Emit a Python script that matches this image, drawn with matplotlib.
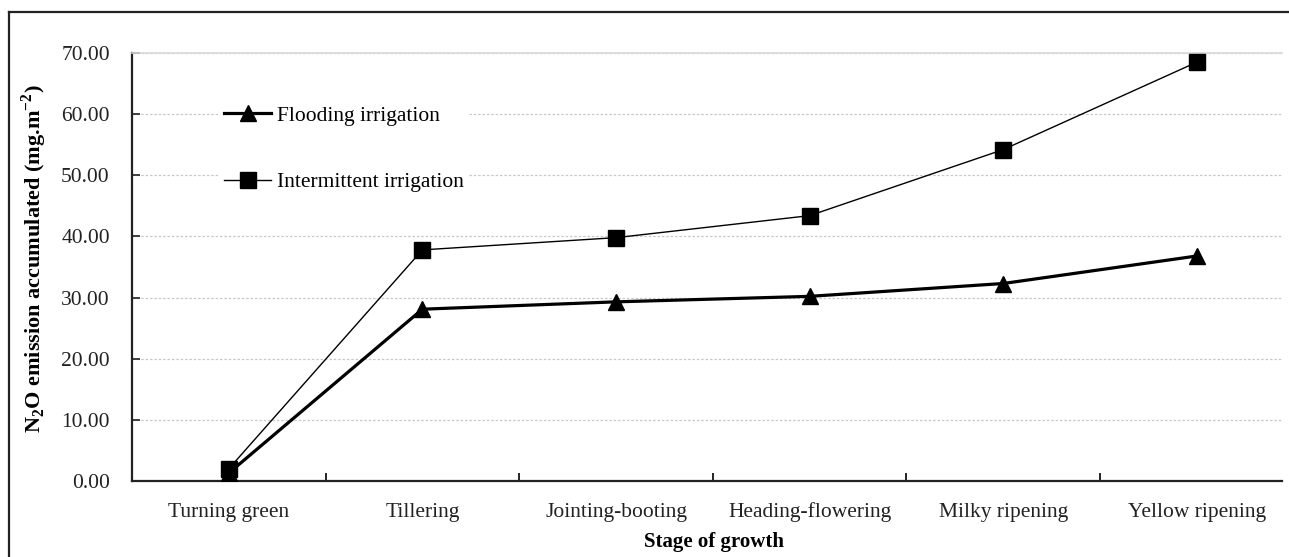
import numpy as np
import matplotlib
matplotlib.use('Agg')
import matplotlib.pyplot as plt
from matplotlib.lines import Line2D
from matplotlib.ticker import FormatStrFormatter

plt.rcParams['font.family'] = ['Liberation Serif', 'DejaVu Serif']
plt.rcParams['mathtext.fontset'] = 'custom'
plt.rcParams['mathtext.rm'] = 'Liberation Serif:bold'
plt.rcParams['mathtext.bf'] = 'Liberation Serif:bold'

## data
stages = ['Turning green', 'Tillering', 'Jointing-booting',
          'Heading-flowering', 'Milky ripening', 'Yellow ripening']
flooding = [1.3, 28.1, 29.3, 30.2, 32.3, 36.8]
intermittent = [2.0, 37.8, 39.8, 43.4, 54.2, 68.5]
yticks = [0, 10, 20, 30, 40, 50, 60, 70]

fig = plt.figure(figsize=(12.89, 5.57), dpi=100)
ax = fig.add_axes([132/1289, 1 - 481/557, 1150/1289, 428/557])

x = np.arange(len(stages))
ax.plot(x, flooding, color='black', lw=2.3, marker='^', ms=12,
        label='Flooding irrigation', zorder=3)
ax.plot(x, intermittent, color='black', lw=1.0, marker='s', ms=11,
        label='Intermittent irrigation', zorder=4)

ax.set_xlim(-0.5, 5.44)
ax.set_ylim(0, 70)

## y axis
ax.set_yticks(yticks)
ax.yaxis.set_major_formatter(FormatStrFormatter('%.2f'))
ax.tick_params(axis='y', direction='in', length=6, width=1.2, pad=16,
               labelsize=15.5, colors='#222222')
ax.yaxis.grid(True, linestyle=(0, (2, 1.5)), color='#c8c8c8', lw=0.9)
ax.set_axisbelow(True)

## x axis: labels in the middle, ticks between categories
ax.set_xticks(x)
ax.set_xticklabels(stages)
ax.tick_params(axis='x', which='major', length=0, pad=15.5, labelsize=15.5,
               colors='#222222')
ax.set_xticks(np.arange(0.5, 5, 1), minor=True)
ax.tick_params(axis='x', which='minor', direction='in', length=6, width=1.2)

for side in ['left', 'bottom']:
    ax.spines[side].set_linewidth(1.6)
    ax.spines[side].set_color('#222222')
ax.spines['right'].set_visible(False)
ax.spines['top'].set_color('#d8d8d8')
ax.spines['top'].set_linewidth(1.2)

ax.set_ylabel(r'N$_2$O emission accumulated (mg.m$^{-2}$)', fontsize=16,
              fontweight='bold')
ax.yaxis.set_label_coords(-0.072, 0.52)
ax.set_xlabel('Stage of growth', fontsize=15, fontweight='bold')
ax.xaxis.set_label_coords(0.506, -0.118)

leg = ax.legend(loc='upper left', bbox_to_anchor=(0.067, 0.912),
                frameon=True, fontsize=15.5, labelspacing=2.15,
                handlelength=2.2, handletextpad=0.25, borderpad=0.2,
                fancybox=False)
leg.get_frame().set_edgecolor('none')
leg.get_frame().set_facecolor('white')
leg.get_frame().set_alpha(1)

## border lines of the original frame (top and left)
fig.add_artist(Line2D([9/1289, 9/1289], [0, 1 - 11.5/557],
                      transform=fig.transFigure, color='#222222', lw=1.6))
fig.add_artist(Line2D([9/1289, 1], [1 - 11.5/557, 1 - 11.5/557],
                      transform=fig.transFigure, color='#222222', lw=1.6))

fig.savefig('out.png', dpi=100)
